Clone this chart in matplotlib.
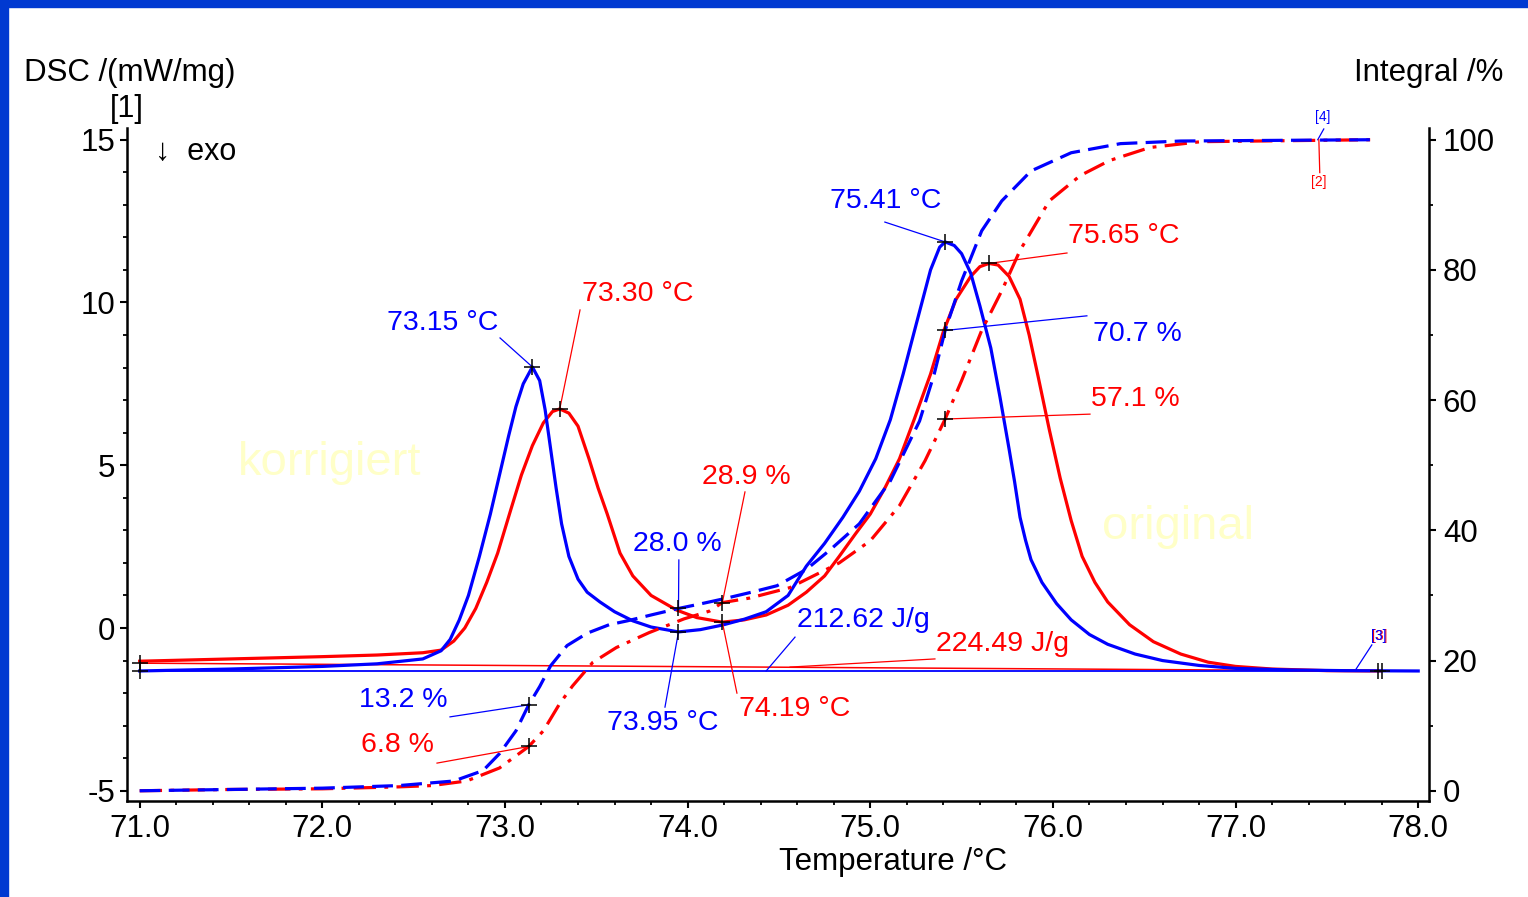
import matplotlib
matplotlib.use("Agg")
import matplotlib.pyplot as plt
from matplotlib.patches import Rectangle
from matplotlib.ticker import MultipleLocator, FormatStrFormatter

plt.rcParams["font.family"] = ["Liberation Sans", "DejaVu Sans"]
plt.rcParams["axes.unicode_minus"] = False

BLUE = "#0000ff"
RED = "#ff0000"

# DSC signal, corrected ("korrigiert"), mW/mg
t_korr = [71.00, 71.50, 72.00, 72.30, 72.55, 72.65, 72.70, 72.75, 72.80, 72.86, 72.92, 72.97,
          73.02, 73.06, 73.10, 73.15, 73.19, 73.22, 73.25, 73.28, 73.31, 73.35, 73.40, 73.45,
          73.52, 73.60, 73.70, 73.80, 73.95, 74.07, 74.19, 74.31, 74.43, 74.55, 74.65, 74.75,
          74.85, 74.94, 75.03, 75.11, 75.18, 75.25, 75.33, 75.38, 75.41, 75.46, 75.50, 75.55,
          75.60, 75.66, 75.71, 75.76, 75.79, 75.82, 75.85, 75.88, 75.94, 76.02, 76.10, 76.20,
          76.30, 76.45, 76.60, 76.80, 77.00, 77.30, 77.60, 78.00]
dsc_korr = [-1.32, -1.26, -1.18, -1.10, -0.95, -0.70, -0.35, 0.25, 1.0, 2.2, 3.5, 4.7,
            5.9, 6.8, 7.5, 8.02, 7.6, 6.7, 5.5, 4.3, 3.2, 2.2, 1.5, 1.1,
            0.8, 0.5, 0.22, 0.03, -0.12, -0.05, 0.09, 0.27, 0.5, 1.0, 1.9, 2.6,
            3.4, 4.2, 5.2, 6.4, 7.8, 9.3, 11.0, 11.7, 11.86, 11.75, 11.5, 10.9,
            9.9, 8.6, 7.1, 5.5, 4.5, 3.4, 2.7, 2.1, 1.4, 0.75, 0.25, -0.2,
            -0.5, -0.8, -1.0, -1.15, -1.24, -1.29, -1.31, -1.32]

# DSC signal, original
t_orig = [71.00, 71.50, 72.00, 72.30, 72.55, 72.65, 72.72, 72.78, 72.84, 72.90, 72.96, 73.03,
          73.09, 73.15, 73.21, 73.26, 73.30, 73.35, 73.40, 73.46, 73.51, 73.56, 73.63, 73.70,
          73.80, 73.94, 74.05, 74.19, 74.31, 74.43, 74.55, 74.65, 74.75, 74.83, 74.92, 75.00,
          75.08, 75.16, 75.24, 75.33, 75.40, 75.47, 75.55, 75.60, 75.65, 75.70, 75.76, 75.82,
          75.87, 75.92, 75.98, 76.04, 76.10, 76.16, 76.23, 76.30, 76.42, 76.55, 76.70, 76.85,
          77.00, 77.20, 77.50, 77.79]
dsc_orig = [-1.02, -0.95, -0.88, -0.83, -0.76, -0.68, -0.4, 0.0, 0.6, 1.4, 2.3, 3.6,
            4.7, 5.6, 6.3, 6.65, 6.73, 6.6, 6.2, 5.2, 4.3, 3.5, 2.3, 1.6,
            1.0, 0.55, 0.32, 0.18, 0.25, 0.40, 0.7, 1.1, 1.6, 2.2, 2.9, 3.5,
            4.3, 5.2, 6.4, 7.8, 9.1, 10.1, 10.8, 11.1, 11.2, 11.15, 10.8, 10.1,
            9.0, 7.7, 6.1, 4.6, 3.3, 2.2, 1.4, 0.8, 0.1, -0.42, -0.8, -1.05,
            -1.18, -1.26, -1.31, -1.32]

# partial integrals, %
t_int_korr = [71.0, 71.5, 72.0, 72.42, 72.72, 72.88, 72.97, 73.06, 73.13, 73.19, 73.25, 73.34,
              73.45, 73.57, 73.67, 73.80, 73.95, 74.07, 74.20, 74.35, 74.49, 74.65, 74.78, 74.94,
              75.11, 75.27, 75.35, 75.41, 75.50, 75.61, 75.72, 75.88, 76.10, 76.37, 76.70, 77.75]
int_korr = [0, 0.2, 0.4, 0.8, 1.5, 3.1, 5.7, 9.2, 13.2, 16.0, 19.2, 22.3,
            24.2, 25.5, 26.1, 27.0, 28.0, 28.7, 29.5, 30.5, 31.5, 34.0, 37.0, 41.0,
            47.6, 56.8, 64.0, 70.7, 78.3, 86.0, 90.6, 95.2, 98.0, 99.4, 99.8, 100]
t_int_orig = [71.0, 71.5, 72.0, 72.42, 72.60, 72.79, 72.97, 73.13, 73.21, 73.30, 73.37, 73.48,
              73.61, 73.79, 73.98, 74.12, 74.19, 74.34, 74.56, 74.71, 74.83, 75.0, 75.16, 75.30,
              75.41, 75.50, 75.61, 75.72, 75.82, 75.98, 76.15, 76.31, 76.53, 76.81, 77.75]
int_orig = [0, 0.2, 0.3, 0.6, 0.8, 1.5, 3.5, 6.8, 9.2, 13.4, 16.1, 19.7,
            22.0, 24.3, 26.4, 27.6, 28.9, 29.6, 31.2, 33.3, 35.0, 38.4, 43.8, 50.7,
            57.1, 63.0, 70.7, 76.8, 83.0, 90.6, 94.5, 96.8, 98.8, 99.7, 100]

# evaluated points
peak_t_korr = [73.15, 75.41]
peak_v_korr = [8.02, 11.86]
peak_t_orig = [73.30, 75.65]
peak_v_orig = [6.73, 11.2]
min_t = [73.95, 74.19]
min_v = [-0.12, 0.18]
base_korr_t = [71.0, 78.0]
base_korr_v = [-1.32, -1.32]
base_orig_t = [71.0, 77.79]
base_orig_v = [-1.08, -1.32]
pint_t = [73.13, 73.13, 73.95, 74.19, 75.41, 75.41]
pint_v = [13.2, 6.8, 28.0, 28.9, 70.7, 57.1]

fig = plt.figure(figsize=(15.28, 8.97), dpi=100)
ax = fig.add_axes([0.0834, 0.1070, 0.8518, 0.7503])
ax2 = ax.twinx()

ylo, yhi = -5.315, 15.36
ax.set_xlim(70.933, 78.059)
ax.set_ylim(ylo, yhi)
ax2.set_ylim((ylo + 5) * 5, (yhi + 5) * 5)

# baselines
ax.plot(base_orig_t, base_orig_v, color=RED, lw=1.1)
ax.plot(base_korr_t, base_korr_v, color=BLUE, lw=1.3)

# DSC curves
ax.plot(t_orig, dsc_orig, color=RED, lw=2.3, solid_joinstyle="round")
ax.plot(t_korr, dsc_korr, color=BLUE, lw=2.3, solid_joinstyle="round")

# integrals
ax2.plot(t_int_orig, int_orig, color=RED, lw=2.3, dashes=(7, 2.6, 1.2, 2.6))
ax2.plot(t_int_korr, int_korr, color=BLUE, lw=2.3, dashes=(6.5, 2.6))

# background labels
ax.text(72.042, 5.07, "korrigiert", color="#ffffc8", fontsize=34, ha="center", va="center", zorder=0)
ax.text(76.684, 3.10, "original", color="#ffffc8", fontsize=34, ha="center", va="center", zorder=0)

lead = dict(lw=0.9)
ann_dsc = [
    ("73.15 °C", BLUE, (72.660, 9.37), (72.973, 8.91), (73.15, 8.02)),
    ("73.30 °C", RED, (73.728, 10.26), (73.411, 9.77), (73.30, 6.73)),
    ("75.41 °C", BLUE, (75.086, 13.12), (75.080, 12.47), (75.41, 11.86)),
    ("75.65 °C", RED, (76.389, 12.04), (76.077, 11.52), (75.65, 11.2)),
    ("212.62 J/g", BLUE, (74.960, 0.25), (74.588, -0.28), (74.43, -1.32)),
    ("224.49 J/g", RED, (75.726, -0.49), (75.354, -0.95), (74.561, -1.2)),
    ("73.95 °C", BLUE, (73.865, -2.92), (73.876, -2.43), (73.95, -0.12)),
    ("74.19 °C", RED, (74.587, -2.49), (74.270, -2.0), (74.19, 0.18)),
]
for label, c, txt, p0, p1 in ann_dsc:
    ax.text(*txt, label, color=c, fontsize=20.5, ha="center", va="center")
    ax.plot([p0[0], p1[0]], [p0[1], p1[1]], color=c, **lead)

ann_int = [
    ("70.7 %", BLUE, (76.460, 9.03), (76.186, 72.95), (75.41, 70.7)),
    ("57.1 %", RED, (76.449, 7.04), (76.203, 57.85), (75.41, 57.1)),
    ("28.9 %", RED, (74.319, 4.64), (74.314, 45.9), (74.19, 28.9)),
    ("28.0 %", BLUE, (73.942, 2.58), (73.952, 35.45), (73.95, 28.0)),
    ("13.2 %", BLUE, (72.441, -2.21), (72.699, 11.35), (73.13, 13.2)),
    ("6.8 %", RED, (72.414, -3.59), (72.628, 4.25), (73.13, 6.8)),
]
for label, c, txt, p0, p1 in ann_int:
    ax.text(*txt, label, color=c, fontsize=20.5, ha="center", va="center")
    ax2.plot([p0[0], p1[0]], [p0[1], p1[1]], color=c, **lead)

# curve tags
ax.text(77.478, 15.70, "[4]", color=BLUE, fontsize=10, ha="center", va="center", clip_on=False)
ax.plot([77.483, 77.450], [15.33, 15.0], color=BLUE, lw=0.9, clip_on=False)
ax.text(77.456, 13.70, "[2]", color=RED, fontsize=10, ha="center", va="center")
ax.plot([77.461, 77.456], [13.99, 15.0], color=RED, lw=0.9)
ax.text(77.787, -0.25, "[3]", color=RED, fontsize=10, ha="center", va="center")
ax.text(77.785, -0.25, "[3]", color=BLUE, fontsize=10, ha="center", va="center")
ax.plot([77.746, 77.653], [-0.52, -1.32], color=BLUE, lw=0.9)

# markers
mk = dict(marker="+", ms=11, mew=1.1, color="black", ls="none", zorder=5)
ax.plot(peak_t_korr, peak_v_korr, **mk)
ax.plot(peak_t_orig, peak_v_orig, **mk)
ax.plot(min_t, min_v, **mk)
ax.plot([base_korr_t[0], base_orig_t[0]], [base_korr_v[0], base_orig_v[0]], **mk)
ax.plot([77.78, 77.80], [-1.32, -1.32], **mk)
ax2.plot(pint_t, pint_v, **mk)

# axes styling
for a in (ax, ax2):
    a.spines["top"].set_visible(False)
    for s in a.spines.values():
        s.set_linewidth(1.8)
ax.spines["right"].set_visible(False)
ax2.spines["left"].set_visible(False)
ax2.spines["bottom"].set_visible(False)

ax.xaxis.set_major_locator(MultipleLocator(1.0))
ax.xaxis.set_minor_locator(MultipleLocator(0.2))
ax.xaxis.set_major_formatter(FormatStrFormatter("%.1f"))
ax.yaxis.set_major_locator(MultipleLocator(5))
ax.yaxis.set_minor_locator(MultipleLocator(1))
ax2.yaxis.set_major_locator(MultipleLocator(20))
ax2.yaxis.set_minor_locator(MultipleLocator(10))

ax.tick_params(axis="both", which="major", direction="out", length=5, width=1.5,
               labelsize=22.5, pad=4)
ax.tick_params(axis="both", which="minor", direction="out", length=3, width=1.3)
ax2.tick_params(axis="y", which="major", direction="out", length=5, width=1.5,
                labelsize=22.5, pad=5)
ax2.tick_params(axis="y", which="minor", direction="out", length=3, width=1.3)

# titles / units
fig.text(24 / 1528, 1 - 73 / 897, "DSC /(mW/mg)", fontsize=22.5, ha="left", va="center")
fig.text(1503 / 1528, 1 - 73 / 897, "Integral /%", fontsize=22.5, ha="right", va="center")
fig.text(127 / 1528, 1 - 109 / 897, "[1]", fontsize=22, ha="center", va="center")
fig.text(155 / 1528, 1 - 152 / 897, "↓  exo", fontsize=22, ha="left", va="center")
fig.text(893 / 1528, 1 - 862 / 897, "Temperature /°C", fontsize=22.5, ha="center", va="center")

# blue frame
frame = "#0039d1"
fig.patches.append(Rectangle((0, 0), 8 / 1528, 1, transform=fig.transFigure, color=frame, zorder=10))
fig.patches.append(Rectangle((0, 1 - 7 / 897), 1, 7 / 897, transform=fig.transFigure, color=frame, zorder=10))

fig.savefig("out.png", dpi=100)
